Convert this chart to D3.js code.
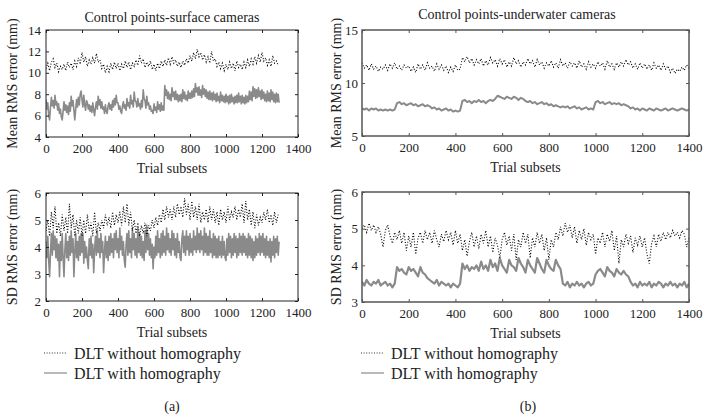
<!DOCTYPE html>
<html><head><meta charset="utf-8">
<script src="https://cdn.jsdelivr.net/npm/d3@7"></script>
<style>
body{margin:0;background:#fff;}
svg, svg text{font-family:"Liberation Serif","Times New Roman","DejaVu Serif",serif !important;}
</style></head>
<body><svg id="c" width="710" height="419"></svg>
<script>
// ---------- data ----------
const step = 10;      // trial-subset spacing of the coarse series
const stepFine = 5;   // trial-subset spacing of the surface "with homography" series
const xTicks = [0,200,400,600,800,1000,1200,1400];
const yTicksMeanA = [4,6,8,10,12,14];
const yTicksSdA = [2,3,4,5,6];
const yTicksMeanB = [5,10,15];
const yTicksSdB = [3,4,5,6];
const titles = ["Control points-surface cameras","Control points-underwater cameras"];
const legendLabels = ["DLT without homography","DLT with homography"];
const panelTags = ["(a)","(b)"];

// (a) surface cameras, mean RMS error (step 10)
const meanSurfNoH = [
10.4,10.9,10.2,11.0,11.3,10.5,10.9,10.1,10.6,10.3,
10.8,10.2,11.0,10.5,10.9,10.3,11.1,10.6,11.4,10.8,
11.9,11.0,11.5,10.6,11.2,10.8,11.4,10.9,11.8,11.0,
11.2,10.4,10.8,10.0,10.6,10.1,10.9,10.3,11.0,10.4,
10.9,10.2,10.8,10.4,11.1,10.5,11.0,10.3,10.9,10.6,
11.2,10.7,11.6,10.9,11.3,10.5,11.0,10.6,11.1,10.3,
10.8,10.2,10.9,10.4,11.1,10.6,11.2,10.7,11.4,10.8,
11.5,10.9,11.2,10.6,11.0,10.5,11.1,10.7,11.3,10.9,
11.6,11.1,11.9,11.3,12.2,11.5,11.9,11.2,11.7,11.0,
11.5,10.9,12.0,11.1,11.3,10.6,11.0,10.4,10.9,10.2,
10.8,10.3,11.0,10.4,10.9,10.2,11.1,10.5,10.8,10.3,
11.0,10.5,11.2,10.6,11.3,10.8,11.5,10.9,11.6,11.0,
11.9,11.1,11.4,10.7,11.2,10.6,11.6,10.9,11.1,10.7];
// (a) surface cameras, mean RMS error with homography (step 5)
const meanSurfH = [
7.5,6.6,7.2,6.0,5.6,6.8,7.7,6.9,7.4,6.7,
7.9,7.0,7.3,6.5,7.1,6.2,6.6,5.9,5.6,6.4,
7.3,6.5,7.0,6.3,6.9,6.1,7.2,6.4,7.8,6.9,
7.4,6.5,5.6,6.6,7.5,6.8,7.7,7.0,8.0,8.3,
7.5,6.8,7.9,7.0,6.5,7.4,7.2,6.6,7.0,6.4,
6.9,6.3,7.2,6.5,6.0,6.8,7.3,6.6,7.8,7.0,
7.5,6.7,7.3,6.6,6.8,6.2,7.0,6.4,6.2,6.9,
7.2,6.6,7.0,6.5,7.4,6.8,7.6,7.0,7.9,7.2,
7.2,6.6,6.9,6.4,6.2,6.9,7.3,6.7,7.0,6.5,
7.6,6.9,7.2,6.7,7.9,7.1,7.4,6.8,8.2,7.4,
7.3,6.8,7.6,6.9,7.1,6.6,7.4,6.8,8.4,7.6,
7.4,6.7,7.8,7.0,7.2,6.6,6.9,6.4,6.5,6.2,
7.1,6.5,6.8,6.3,7.3,6.6,7.0,6.4,7.2,6.5,
6.9,6.5,8.8,7.9,8.4,7.6,8.2,7.5,8.0,7.4,
8.6,7.8,8.2,7.5,8.3,7.5,8.0,7.3,7.9,7.4,
8.0,7.3,8.4,7.6,8.2,7.5,7.9,7.4,8.3,7.6,
8.1,7.6,8.3,7.7,8.5,7.8,9.0,8.2,8.6,7.9,
8.7,7.9,8.4,7.7,8.8,8.0,8.5,7.8,8.4,7.6,
8.2,7.5,8.3,7.5,8.1,7.4,8.2,7.5,8.0,7.3,
8.1,7.4,7.8,7.2,8.2,7.4,7.9,7.3,7.8,7.2,
8.0,7.3,7.8,7.1,7.9,7.2,8.0,7.3,7.7,7.1,
7.8,7.2,7.9,7.2,8.1,7.3,7.8,7.1,7.9,7.2,
7.7,7.1,7.9,7.2,7.8,7.3,8.3,7.5,8.2,7.4,
8.7,7.8,8.5,7.6,8.4,7.7,8.6,7.8,8.3,7.5,
8.4,7.6,8.2,7.4,8.0,7.3,8.3,7.4,8.1,7.3,
8.4,7.5,8.2,7.3,8.0,7.2,8.1,7.3,8.0,7.2];

// (a) surface cameras, SD RMS error (step 10)
const sdSurfNoH = [
4.6,5.0,4.4,5.3,4.7,5.5,4.5,4.9,4.4,5.2,
4.6,5.1,4.5,5.6,4.7,5.2,4.4,5.0,4.5,5.1,
4.4,5.0,4.5,5.2,4.6,4.9,4.4,5.3,4.5,4.9,
4.6,5.0,4.7,5.2,4.8,5.1,4.7,5.3,4.8,5.2,
4.9,5.3,4.8,5.5,4.9,5.6,4.8,5.3,4.6,5.0,
4.5,4.9,4.4,4.8,4.5,4.9,4.4,4.8,4.6,5.0,
4.7,5.1,4.8,5.2,4.9,5.4,5.0,5.5,5.1,5.4,
5.0,5.5,5.1,5.6,5.2,5.5,5.1,5.8,5.2,5.6,
5.0,5.7,5.1,5.5,5.0,5.6,4.9,5.3,5.0,5.4,
4.9,5.5,5.0,5.4,4.9,5.3,4.8,5.4,5.0,5.3,
4.9,5.5,5.0,5.3,5.1,5.5,5.0,5.4,5.1,5.6,
4.9,5.7,5.0,5.4,4.8,5.3,4.7,5.2,4.8,5.1,
4.9,5.3,5.0,5.4,4.9,5.2,4.8,5.3,4.9,5.2];
// (a) surface cameras, SD RMS error with homography (step 5)
const sdSurfH = [
4.2,3.6,4.4,3.5,2.9,3.8,4.5,3.7,4.6,3.9,
4.4,3.6,4.3,3.5,4.1,2.9,4.2,3.5,4.5,3.6,
2.9,3.9,4.5,3.6,4.2,3.5,4.4,3.7,4.6,3.8,
4.3,2.9,3.8,4.5,3.6,4.2,3.5,4.4,3.7,4.5,
3.8,4.5,3.4,4.2,3.6,4.0,3.5,3.2,4.3,3.7,
4.4,3.6,4.1,3.05,3.9,4.4,3.7,4.6,3.8,4.3,
3.6,4.5,3.8,4.2,3.05,3.8,4.4,3.6,4.2,3.5,
4.4,3.7,4.5,3.8,4.3,3.6,4.5,3.9,4.6,3.8,
4.3,3.6,4.7,3.9,4.4,3.7,4.2,3.5,3.25,4.1,
4.5,3.7,4.6,3.8,4.3,3.6,4.7,3.9,4.5,3.7,
4.3,3.6,4.7,3.8,4.5,3.7,4.4,3.6,4.2,3.5,
4.6,3.8,4.8,3.9,4.5,3.7,4.3,3.6,4.1,3.2,
4.0,3.6,4.4,3.7,4.6,3.8,4.3,3.6,4.5,3.7,
4.6,3.8,4.4,3.7,4.7,3.9,4.5,3.8,4.3,3.7,
4.6,3.9,4.5,3.7,4.3,3.6,4.5,3.8,4.2,3.6,
3.5,4.3,4.6,3.8,4.4,3.7,4.6,3.9,4.4,3.7,
4.5,3.8,4.3,3.7,4.6,3.9,4.4,3.8,4.7,3.9,
4.5,3.8,4.6,3.9,4.4,3.7,4.7,3.8,4.5,3.7,
4.4,3.7,4.6,3.8,4.3,3.6,4.5,3.7,4.4,3.6,
4.3,3.6,4.4,3.7,4.2,3.6,4.4,3.7,4.2,3.6,
3.5,4.3,3.7,4.5,3.8,4.4,3.6,4.3,3.7,4.5,
3.8,4.4,3.6,4.3,3.7,4.5,3.8,4.4,3.7,4.5,
3.8,4.4,3.7,4.3,3.6,4.5,3.7,4.4,3.6,4.3,
3.5,4.2,3.6,4.4,3.7,4.3,3.8,4.5,3.7,4.4,
3.8,4.5,3.7,4.3,3.6,4.4,3.7,4.2,3.6,4.3,
3.45,4.2,3.7,4.4,3.6,4.3,3.8,4.4,3.7,4.2];

// (b) underwater cameras, mean RMS error (step 10)
const meanUwNoH = [
11.9,11.4,11.7,11.2,11.8,11.3,11.6,11.1,11.5,11.3,
11.7,11.2,11.8,11.4,11.9,11.3,11.6,11.2,11.7,11.4,
11.6,11.1,11.5,11.0,11.8,11.3,11.7,11.2,11.9,11.4,
11.6,11.1,11.8,11.3,11.7,11.2,11.6,11.0,11.5,11.1,
11.7,11.2,11.3,12.4,12.0,12.5,11.9,12.3,11.7,12.2,
11.8,12.3,11.6,12.1,11.7,12.4,11.9,12.2,11.6,12.3,
11.8,12.2,11.5,12.0,11.6,12.4,11.8,12.1,11.5,12.0,
11.7,12.3,11.8,12.1,11.5,12.2,11.7,12.0,11.4,11.9,
11.6,12.1,11.5,11.9,11.4,12.2,11.6,11.9,11.4,12.0,
11.6,11.9,11.4,12.1,11.5,11.8,11.3,12.0,11.5,11.8,
11.4,12.0,11.6,11.9,11.3,12.1,11.5,11.8,11.3,11.9,
11.5,12.0,11.6,12.2,11.7,12.0,11.4,11.8,11.3,11.9,
11.4,11.8,11.3,11.7,11.2,11.9,11.4,11.7,11.2,11.8,
11.3,11.6,11.0,11.4,10.9,11.3,11.1,11.5,11.2,11.7,11.4];
const meanUwH = [
7.6,7.5,7.6,7.4,7.6,7.5,7.6,7.4,7.5,7.4,7.5,7.4,7.5,7.4,7.5,
8.1,8.2,8.0,8.1,7.9,8.0,8.1,7.9,8.0,7.8,7.9,8.0,7.8,7.9,7.8,
7.6,7.7,7.5,7.6,7.4,7.5,7.6,7.4,7.5,7.3,7.4,7.3,7.4,
8.3,8.4,8.2,8.3,8.1,8.3,8.2,8.4,8.2,8.3,8.1,8.3,8.4,8.3,8.5,
8.8,8.7,8.6,8.5,8.7,8.6,8.5,8.7,8.6,8.4,8.6,8.5,8.3,
8.2,8.3,8.1,8.2,8.0,8.1,8.2,8.0,8.1,7.9,8.0,7.8,7.9,7.8,7.7,
7.8,7.7,7.8,7.6,7.7,7.8,7.6,7.7,7.5,7.6,7.7,7.5,7.6,7.5,
8.2,8.3,8.1,8.2,8.0,8.1,8.2,8.0,8.1,8.0,8.1,7.9,8.0,7.9,7.8,
7.6,7.7,7.5,7.6,7.4,7.6,7.5,7.4,7.6,7.5,7.4,7.6,7.5,7.4,7.5,
7.6,7.4,7.5,7.6,7.5,7.4,7.5,7.6,7.5,7.4,7.5];

// (b) underwater cameras, SD RMS error (step 10)
const sdUwNoH = [
5.0,5.1,4.9,5.15,4.95,5.1,4.9,5.05,4.85,4.5,
4.95,5.1,4.8,4.6,4.9,4.7,4.95,4.6,4.9,4.4,
4.8,4.5,4.9,4.3,4.75,4.9,4.6,4.95,4.7,4.9,
4.6,4.95,4.7,4.5,4.85,4.65,4.95,4.7,4.9,4.55,
4.95,4.6,4.85,4.4,4.7,4.25,4.65,4.9,4.5,4.8,
4.45,4.85,4.6,4.95,4.5,4.8,4.35,4.75,4.55,4.2,
4.7,4.9,4.55,4.8,4.4,4.85,4.15,4.7,4.5,4.9,
4.6,4.85,4.2,4.75,4.5,4.9,4.6,4.85,4.4,4.75,
4.15,4.7,4.5,4.9,4.7,5.05,4.8,5.15,4.9,5.1,
4.75,5.05,4.6,4.95,4.7,5.0,4.55,4.9,4.7,4.85,
4.3,4.75,4.6,4.9,4.5,4.85,4.65,4.95,4.4,4.8,
4.05,4.7,4.5,4.85,4.6,4.8,4.35,4.75,4.55,4.8,
4.5,4.75,4.3,4.05,4.6,4.8,4.5,4.85,4.65,4.9,
4.7,4.9,4.75,4.95,4.8,4.9,4.75,4.95,4.85,4.5,4.75];
const sdUwH = [
3.55,3.45,3.6,3.5,3.45,3.55,3.5,3.6,3.45,3.5,3.55,3.45,3.5,3.4,3.5,
3.95,3.85,3.9,3.8,3.75,3.95,3.85,3.9,3.8,3.7,3.95,3.8,3.75,3.65,3.6,
3.55,3.5,3.6,3.45,3.55,3.5,3.45,3.5,3.4,3.5,3.45,3.4,3.5,
4.05,3.9,4.0,3.85,3.95,3.9,4.0,3.85,4.1,3.9,4.0,3.85,4.15,3.95,4.05,
3.85,4.2,4.0,3.9,3.8,4.15,4.0,3.95,3.85,4.2,4.05,3.95,3.8,4.15,
4.0,3.9,3.8,4.2,4.05,3.9,3.8,4.15,4.0,3.9,3.85,4.15,4.0,3.9,
3.5,3.45,3.55,3.4,3.5,3.45,3.55,3.45,3.5,3.4,3.5,3.55,3.45,3.5,
3.75,3.85,3.9,3.8,3.7,3.95,3.85,3.8,3.7,3.9,3.8,3.75,3.85,3.75,3.7,
3.55,3.45,3.5,3.4,3.55,3.45,3.5,3.45,3.55,3.4,3.5,3.45,3.55,
3.5,3.4,3.5,3.45,3.55,3.45,3.5,3.4,3.5,3.45,3.55,3.4,3.5];

// ---------- drawing ----------
const FONT = "Liberation Serif, Times New Roman, DejaVu Serif, serif";
const svg = d3.select("#c").attr("font-family",FONT);
const GREY = "#8a8a8a";

const panels = [
  {x0:46,x1:298,y0:30,y1:137,dom:[4,14],yt:yTicksMeanA,a:meanSurfNoH,sa:step,b:meanSurfH,sb:stepFine,label:"Mean RMS error (mm)",ylx:14,tlx:41,frame:"#222",fw:1,gw:1.6},
  {x0:46,x1:298,y0:193,y1:301,dom:[2,6],yt:yTicksSdA,a:sdSurfNoH,sa:step,b:sdSurfH,sb:stepFine,label:"SD RMS error (mm)",ylx:14,tlx:41,frame:"#222",fw:1,gw:1.6},
  {x0:362,x1:689,y0:30,y1:136,dom:[5,15],yt:yTicksMeanB,a:meanUwNoH,sa:step,b:meanUwH,sb:step,label:"Mean RMS error (mm)",ylx:338,tlx:358,frame:"#555",fw:1.5,gw:2},
  {x0:362,x1:689,y0:192,y1:302,dom:[3,6],yt:yTicksSdB,a:sdUwNoH,sa:step,b:sdUwH,sb:step,label:"SD RMS error (mm)",ylx:338,tlx:358,frame:"#555",fw:1.5,gw:2.2}
];

panels.forEach(p=>{
  const x = d3.scaleLinear().domain([0,1400]).range([p.x0,p.x1]);
  const y = d3.scaleLinear().domain(p.dom).range([p.y1,p.y0]);
  const g = svg.append("g");
  const clipId = "clip"+p.x0+"_"+p.y0;
  svg.append("clipPath").attr("id",clipId).append("rect")
    .attr("x",p.x0).attr("y",p.y0).attr("width",p.x1-p.x0).attr("height",p.y1-p.y0);

  const lineFor = s => d3.line().x((d,i)=>x(i*s)).y(d=>y(d));
  const plot = g.append("g").attr("clip-path",`url(#${clipId})`);
  plot.append("path").datum(p.b).attr("d",lineFor(p.sb))
    .attr("fill","none").attr("stroke",GREY).attr("stroke-width",p.gw).attr("stroke-linejoin","round");
  plot.append("path").datum(p.a).attr("d",lineFor(p.sa))
    .attr("fill","none").attr("stroke","#000").attr("stroke-width",1.1).attr("stroke-dasharray","1,1.8");

  // axes (ticks inward on all four sides)
  const axB = d3.axisBottom(x).tickValues(xTicks).tickSize(-3).tickPadding(7).tickFormat(d3.format("d"));
  const axT = d3.axisTop(x).tickValues(xTicks).tickSize(-3).tickFormat("");
  const axL = d3.axisLeft(y).tickValues(p.yt).tickSize(-3).tickPadding(5).tickFormat(d3.format("d"));
  const axR = d3.axisRight(y).tickValues(p.yt).tickSize(-3).tickFormat("");
  const gb = g.append("g").attr("transform",`translate(0,${p.y1})`).call(axB);
  const gt = g.append("g").attr("transform",`translate(0,${p.y0})`).call(axT);
  const gl = g.append("g").attr("transform",`translate(${p.x0},0)`).call(axL);
  const gr = g.append("g").attr("transform",`translate(${p.x1},0)`).call(axR);
  [gb,gt,gl,gr].forEach(a=>{
    a.attr("font-family",FONT).attr("font-size",13);
    a.select(".domain").remove();
    a.selectAll("line").attr("stroke",p.frame).attr("stroke-width",1);
    a.selectAll("text").attr("font-family",FONT).attr("font-size",13).attr("fill","#222");
  });
  gl.selectAll("text").attr("dx",null).attr("text-anchor","end").attr("x",p.tlx-p.x0);
  g.append("rect").attr("x",p.x0).attr("y",p.y0).attr("width",p.x1-p.x0).attr("height",p.y1-p.y0)
    .attr("fill","none").attr("stroke",p.frame).attr("stroke-width",p.fw);

  g.append("text").attr("transform",`translate(${p.ylx},${(p.y0+p.y1)/2}) rotate(-90)`)
    .attr("text-anchor","middle").attr("dominant-baseline","middle").attr("font-family",FONT)
    .attr("font-size",14).attr("fill","#222").text(p.label);
  g.append("text").attr("x",(p.x0+p.x1)/2).attr("y",p.y1+36).attr("font-family",FONT)
    .attr("text-anchor","middle").attr("font-size",14).attr("fill","#222").text("Trial subsets");
});

// titles
svg.append("text").attr("x",172).attr("y",22).attr("text-anchor","middle").attr("font-family",FONT)
  .attr("font-size",14).attr("fill","#222").text(titles[0]);
svg.append("text").attr("x",517).attr("y",19).attr("text-anchor","middle").attr("font-family",FONT)
  .attr("font-size",14).attr("fill","#222").text(titles[1]);

// legends and tags
[{lx:44,tx:74,cx:172},{lx:361,tx:391,cx:528}].forEach((L,k)=>{
  const lg = svg.append("g").attr("font-family",FONT);
  lg.append("line").attr("x1",L.lx).attr("x2",L.lx+23).attr("y1",353).attr("y2",353)
    .attr("stroke","#333").attr("stroke-width",1).attr("stroke-dasharray","1,1.6");
  lg.append("line").attr("x1",L.lx).attr("x2",L.lx+23).attr("y1",373).attr("y2",373)
    .attr("stroke",GREY).attr("stroke-width",1.2);
  lg.append("text").attr("x",L.tx).attr("y",358.5).attr("font-size",16).attr("fill","#222").text(legendLabels[0]);
  lg.append("text").attr("x",L.tx).attr("y",378.5).attr("font-size",16).attr("fill","#222").text(legendLabels[1]);
  lg.append("text").attr("x",L.cx).attr("y",411).attr("text-anchor","middle").attr("font-size",14).attr("fill","#222").text(panelTags[k]);
});
</script></body></html>
